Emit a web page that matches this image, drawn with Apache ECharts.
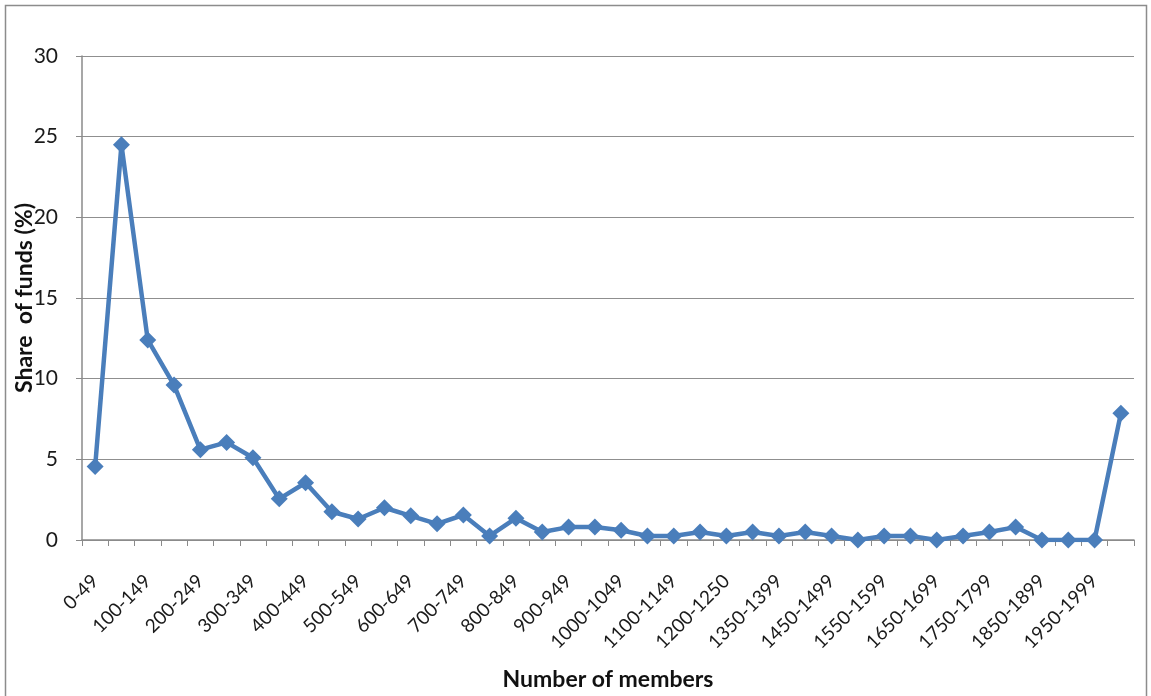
<!DOCTYPE html>
<html>
<head>
<meta charset="utf-8">
<script src="https://cdn.jsdelivr.net/npm/echarts@6/dist/echarts.min.js"></script>
<style>
  html, body { margin: 0; padding: 0; background: #fff; }
  #chart { width: 1151px; height: 696px; }
</style>
</head>
<body>
<div id="chart"></div>
<script>
// Fund size bands (number of members)
const categories = [
  '0-49', '50-99', '100-149', '150-199', '200-249', '250-299', '300-349', '350-399',
  '400-449', '450-499', '500-549', '550-599', '600-649', '650-699', '700-749', '750-799',
  '800-849', '850-899', '900-949', '950-999', '1000-1049', '1050-1099', '1100-1149', '1150-1199',
  '1200-1250', '1251-1349', '1350-1399', '1400-1449', '1450-1499', '1500-1549', '1550-1599', '1600-1649',
  '1650-1699', '1700-1749', '1750-1799', '1800-1849', '1850-1899', '1900-1949', '1950-1999', '2000+'
];

// Share of funds in each band (%)
const shareOfFunds = [
  4.55, 24.5, 12.4, 9.6, 5.6, 6.05, 5.1, 2.55,
  3.55, 1.75, 1.3, 2.0, 1.5, 1.0, 1.55, 0.25,
  1.35, 0.5, 0.8, 0.8, 0.6, 0.25, 0.25, 0.5,
  0.25, 0.5, 0.25, 0.5, 0.25, 0, 0.25, 0.25,
  0, 0.25, 0.5, 0.8, 0, 0, 0, 7.85
];

const yTicks = { min: 0, max: 30, interval: 5 };

const FONT = 'Lato, "Open Sans", sans-serif';
const chart = echarts.init(document.getElementById('chart'), null, { renderer: 'canvas' });

chart.setOption({
  backgroundColor: '#ffffff',
  animation: false,
  graphic: [{
    type: 'rect',
    shape: { x: 5.5, y: 5.5, width: 1141, height: 700 },
    style: { fill: 'none', stroke: '#8c8c8c', lineWidth: 1.5 },
    silent: true
  }],
  grid: { left: 82, right: 17, top: 56, bottom: 156, containLabel: false },
  xAxis: {
    type: 'category',
    data: categories,
    boundaryGap: true,
    name: 'Number of members',
    nameLocation: 'middle',
    nameGap: 128,
    nameMoveOverlap: false,
    nameTextStyle: { fontFamily: FONT, fontSize: 23, fontWeight: 'bold', color: '#111' },
    axisLine: { lineStyle: { color: '#8a8a8a', width: 1.5 } },
    axisTick: { show: true, alignWithLabel: false, interval: 0, length: 6, lineStyle: { color: '#8a8a8a' } },
    axisLabel: {
      interval: 1,
      rotate: 45,
      margin: 38,
      fontFamily: FONT,
      fontSize: 19,
      color: '#1a1a1a'
    },
    splitLine: { show: false }
  },
  yAxis: {
    type: 'value',
    min: yTicks.min,
    max: yTicks.max,
    interval: yTicks.interval,
    name: 'Share  of funds (%)',
    nameLocation: 'middle',
    nameGap: 46,
    nameMoveOverlap: false,
    nameTextStyle: { fontFamily: FONT, fontSize: 23, fontWeight: 'bold', color: '#111' },
    axisLine: { show: true, lineStyle: { color: '#8a8a8a', width: 1.5 } },
    axisTick: { show: true, length: 6, lineStyle: { color: '#8a8a8a' } },
    axisLabel: { fontFamily: FONT, fontSize: 21, color: '#1a1a1a', margin: 24 },
    splitLine: { show: true, lineStyle: { color: '#8f8f8f', width: 1.2 } }
  },
  series: [{
    type: 'line',
    data: shareOfFunds,
    symbol: 'diamond',
    symbolSize: 17,
    showAllSymbol: true,
    lineStyle: { color: '#4a7ebb', width: 4.5 },
    itemStyle: { color: '#4a7ebb' }
  }]
});
</script>
</body>
</html>
